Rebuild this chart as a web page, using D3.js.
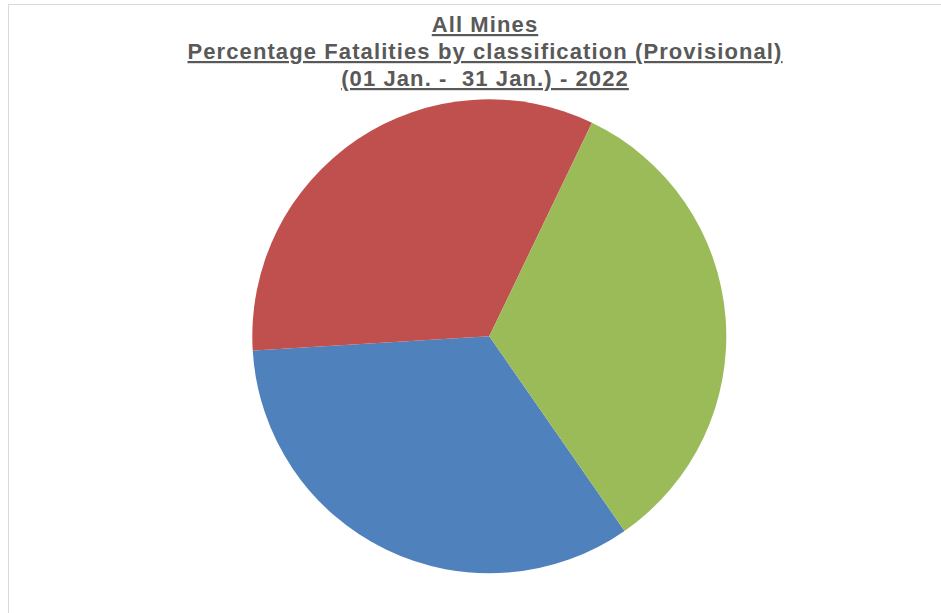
<!DOCTYPE html>
<html>
<head>
<meta charset="utf-8">
<script src="https://cdn.jsdelivr.net/npm/d3@7"></script>
<style>
  body { margin: 0; background: #fff; }
  svg text { font-family: "Liberation Sans", Arial, sans-serif; }
</style>
</head>
<body>
<svg id="chart"></svg>
<script>
// fatalities share by classification (no legend on the chart)
let categories = ['Classification A', 'Classification B', 'Classification C'];
let shares = [33.7, 33.1, 33.2];
let colors = ['#4f81bd', '#c0504d', '#9bbb59'];
let titleLines = [
    'All Mines',
    'Percentage Fatalities by classification (Provisional)',
    '(01 Jan. -  31 Jan.) - 2022'
];

let w = 941;
let h = 613;

let svg = d3.select('#chart')
    .attr('width', w)
    .attr('height', h);

// chart area border (runs off the right and bottom)
svg.append('rect')
    .attr('x', 8.5)
    .attr('y', 4.5)
    .attr('width', w)
    .attr('height', h)
    .attr('fill', 'none')
    .attr('stroke', '#d9d9d9');

svg.append('g')
    .selectAll('text')
    .data(titleLines)
    .enter()
    .append('text')
    .attr('x', 485)
    .attr('y', (d, i) => 32 + i * 27)
    .attr('text-anchor', 'middle')
    .attr('font-size', 22)
    .attr('font-weight', 'bold')
    .attr('letter-spacing', 1.1)
    .attr('fill', '#595959')
    .style('text-decoration', 'underline')
    .style('white-space', 'pre')
    .text(d => d);

let cx = 489.3, cy = 336.3, r = 237;
let start = 145.2 * Math.PI / 180;

let pie = d3.pie()
    .sort(null)
    .value(d => d)
    .startAngle(start)
    .endAngle(start + 2 * Math.PI);

let arc = d3.arc()
    .innerRadius(0)
    .outerRadius(r);

svg.append('g')
    .attr('transform', `translate(${cx}, ${cy})`)
    .selectAll('path')
    .data(pie(shares))
    .enter()
    .append('path')
    .attr('d', arc)
    .attr('fill', (d, i) => colors[i])
    .append('title')
    .text((d, i) => `${categories[i]}: ${shares[i]}%`);
</script>
</body>
</html>
